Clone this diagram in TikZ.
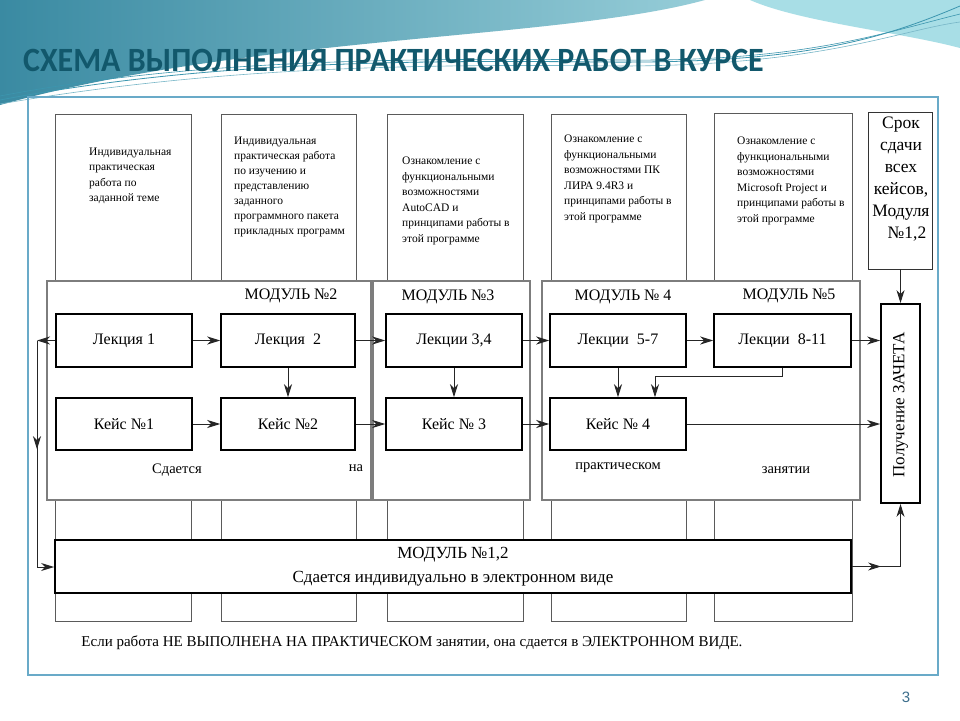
\documentclass[tikz,border=0pt]{standalone}
\usepackage{fontspec}
\setmainfont{Liberation Serif}
\newfontfamily\titlefont{Carlito}
\newfontfamily\numfont{Liberation Sans}
\usepackage{graphicx}
\usetikzlibrary{arrows.meta,decorations.markings,calc}
\definecolor{titlecol}{RGB}{18,88,108}
\definecolor{tealA}{RGB}{58,138,162}
\definecolor{tealB}{RGB}{150,205,216}
\definecolor{cyanC}{RGB}{168,222,230}
\definecolor{swoosh}{RGB}{60,150,175}
\definecolor{panelcol}{RGB}{105,170,200}
\definecolor{modgray}{RGB}{125,125,125}
\definecolor{colgray}{RGB}{90,90,90}
\definecolor{pagenum}{RGB}{60,110,140}
\tikzset{
 colbox/.style={draw=colgray, line width=0.8pt, inner sep=0},
 modbox/.style={draw=modgray, line width=1.3pt, fill=white, inner sep=0},
 blk/.style={draw=black, line width=1.5pt, fill=white, inner sep=0, minimum width=136pt, minimum height=53pt, font=\fontsize{16}{18}\selectfont},
 coltext/.style={anchor=north west, align=left, inner sep=0, font=\fontsize{11.5}{15.5}\selectfont},
 modlabel/.style={inner sep=0, font=\fontsize{16}{18}\selectfont},
 note/.style={inner sep=0, font=\fontsize{14.5}{16}\selectfont},
 arr/.style={draw=black!85, line width=1pt, -{Stealth[length=13pt,width=8pt,inset=4pt]}},
 conn/.style={draw=black!85, line width=1pt},
 midarr/.style={conn, decoration={markings, mark=at position #1 with {\arrow{Stealth[length=13pt,width=8pt,inset=4pt]}}}, postaction={decorate}},
}
\begin{document}
\begin{tikzpicture}[x=1pt,y=-1pt]
\useasboundingbox (0,0) rectangle (960,720);
\fill[white] (0,0) rectangle (960,720);
% header background
\shade[left color=tealA, right color=tealB] (0,0) -- (705,0) .. controls (560,40) and (250,35) .. (0,105) -- cycle;
\fill[cyanC] (750,0) -- (960,0) -- (960,48) .. controls (900,32) and (800,22) .. (750,0) -- cycle;
\draw[swoosh, line width=0.8pt] (0,100) .. controls (200,62) and (400,60) .. (600,62) .. controls (800,64) and (880,40) .. (960,6);
\draw[swoosh, line width=0.6pt] (0,96) .. controls (200,58) and (420,58) .. (620,60) .. controls (800,62) and (880,34) .. (960,14);
\draw[swoosh!70, line width=0.6pt] (0,104) .. controls (220,66) and (420,64) .. (620,66) .. controls (820,66) and (900,30) .. (960,22);
\node[anchor=west, inner sep=0, text=titlecol, font=\titlefont\bfseries\fontsize{34}{36}\selectfont] (title) at (23,60) {\scalebox{0.94}[1]{СХЕМА ВЫПОЛНЕНИЯ ПРАКТИЧЕСКИХ РАБОТ В КУРСЕ}};
% panel
\node[draw=panelcol, line width=1.5pt, minimum width=910pt, minimum height=578pt, inner sep=0] (panel) at (483,386) {};
% columns
\node[colbox, minimum width=136pt, minimum height=507pt] (C1) at (123,367.5) {};
\node[colbox, minimum width=135pt, minimum height=507pt] (C2) at (288.5,367.5) {};
\node[colbox, minimum width=136pt, minimum height=507pt] (C3) at (455,367.5) {};
\node[colbox, minimum width=135pt, minimum height=507pt] (C4) at (618.5,367.5) {};
\node[colbox, minimum width=138pt, minimum height=508pt] (C5) at (783,367) {};
\node[coltext] (t1) at (89,147.5) {Индивидуальная\\практическая\\работа по\\заданной теме};
\node[coltext, font=\fontsize{11.5}{15}\selectfont] (t2) at (234,137) {Индивидуальная\\практическая работа\\по изучению и\\представлению\\заданного\\программного пакета\\прикладных программ};
\node[coltext] (t3) at (402,157) {Ознакомление с\\функциональными\\возможностями\\AutoCAD и\\принципами работы в\\этой программе};
\node[coltext] (t4) at (564,135) {Ознакомление с\\функциональными\\возможностями ПК\\ЛИРА 9.4R3 и\\принципами работы в\\этой программе};
\node[coltext] (t5) at (737,137) {Ознакомление с\\функциональными\\возможностями\\Microsoft Project и\\принципами работы в\\этой программе};
% modules
\node[modbox, minimum width=324pt, minimum height=219pt] (MA) at (209,390.5) {};
\node[modbox, minimum width=157pt, minimum height=219pt] (MB) at (451.5,390.5) {};
\node[modbox, minimum width=318pt, minimum height=219pt] (MC) at (701,390.5) {};
\node[modlabel] (m2) at (291,296) {МОДУЛЬ №2};
\node[modlabel] (m3) at (448,297) {МОДУЛЬ №3};
\node[modlabel] (m4) at (623,297) {МОДУЛЬ № 4};
\node[modlabel] (m5) at (789,296) {МОДУЛЬ №5};
% inner boxes
\node[blk] (L1) at (124,340.5) {Лекция 1};
\node[blk, minimum width=134pt] (L2) at (288,340.5) {Лекция~ 2};
\node[blk] (L34) at (454,340.5) {Лекции 3,4};
\node[blk] (L57) at (618,340.5) {Лекции~ 5-7};
\node[blk, minimum width=137pt] (L811) at (782.5,340.5) {Лекции~ 8-11};
\node[blk, minimum height=52pt] (K1) at (124,424) {Кейс №1};
\node[blk, minimum width=134pt, minimum height=52pt] (K2) at (288,424) {Кейс №2};
\node[blk, minimum height=52pt] (K3) at (454,424) {Кейс № 3};
\node[blk, minimum height=52pt] (K4) at (618,424) {Кейс № 4};
\node[note] (n1) at (177,470) {Сдается};
\node[note] (n2) at (356,468) {на};
\node[note] (n3) at (618,468) {практическом};
\node[note] (n4) at (786,470) {занятии};
% right side
\node[draw=black!80, line width=0.9pt, minimum width=64pt, minimum height=157pt, inner sep=0] (S) at (900.5,190.5) {};
\node[align=center, inner sep=0, font=\fontsize{17.5}{22}\selectfont] (St) at (901,179) {Срок\\сдачи\\всех\\кейсов,\\Модуля\\\hspace*{12pt}№1,2};
\node[draw=black, line width=1.8pt, fill=white, minimum width=39pt, minimum height=199pt, inner sep=0] (Z) at (900.5,403.5) {};
\node[rotate=90, inner sep=0, font=\fontsize{17}{19}\selectfont] (Zt) at (900.5,405) {Получение ЗАЧЕТА};
% module 1,2
\node[draw=black, line width=1.8pt, fill=white, minimum width=796pt, minimum height=53pt, inner sep=0, align=center, font=\fontsize{17}{24}\selectfont] (M12) at (453,566.5) {МОДУЛЬ №1,2\\Сдается индивидуально в электронном виде};
\node[note, font=\fontsize{15}{16}\selectfont] (bn) at (412,643) {Если работа НЕ ВЫПОЛНЕНА НА ПРАКТИЧЕСКОМ занятии, она сдается в ЭЛЕКТРОННОМ ВИДЕ.};
\node[inner sep=0, text=pagenum, font=\numfont\fontsize{15}{16}\selectfont] (pg) at (906,697) {3};
% connectors
\draw[arr] (L1) -- (L2);
\draw[arr] (L2) -- (L34);
\draw[arr] (L34) -- (L57);
\draw[arr] (L57) -- (L811);
\draw[arr] (L811.east) -- (L811.east -| Z.west);
\draw[arr] (K1) -- (K2);
\draw[arr] (K2) -- (K3);
\draw[arr] (K3) -- (K4);
\draw[arr] (K4.east) -- (K4.east -| Z.west);
\draw[arr] (L2) -- (K2);
\draw[arr] (L34) -- (K3);
\draw[arr] (L57) -- (K4);
\coordinate (kk) at (655,376);
\draw[arr, line width=0.8pt] (L811.south) -- (L811.south |- kk) -- (kk) -- (kk |- K4.north);
\coordinate (lt) at (37,340.5);
\coordinate (lb) at (37,567);
\draw[arr] (L1) -- (lt);
\draw[midarr=0.48] (lt) -- (lb);
\draw[arr] (lb) -- (lb -| M12.west);
\coordinate (rb) at (Z.south |- M12.east);
\draw[midarr=0.6] (M12.east) -- (rb);
\draw[arr] (rb) -- (Z.south);
\draw[arr] (S) -- (Z);
\end{tikzpicture}
\end{document}
